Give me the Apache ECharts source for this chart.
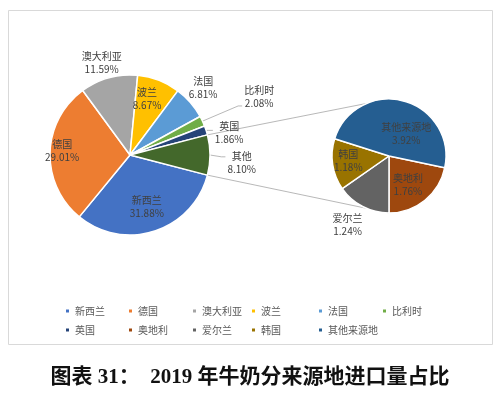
<!DOCTYPE html>
<html>
<head>
<meta charset="utf-8">
<script src="https://cdn.jsdelivr.net/npm/echarts@6/dist/echarts.min.js"></script>
<style>
  html, body { margin: 0; padding: 0; background: #fff; }
  #chart { width: 500px; height: 399px; }
</style>
</head>
<body>
<div id="chart"></div>
<script>
// 主饼图
const mainNames = ['新西兰', '德国', '澳大利亚', '波兰', '法国', '比利时', '英国', '其他']
const mainValues = [31.88, 29.01, 11.59, 8.67, 6.81, 2.08, 1.86, 8.10]
// 子饼图（“其他”拆分）
const subNames = ['奥地利', '爱尔兰', '韩国', '其他来源地']
const subValues = [1.76, 1.24, 1.18, 3.92]
// 图例按列排
const legendColumns = [
  ['新西兰', '英国'],
  ['德国', '奥地利'],
  ['澳大利亚', '爱尔兰'],
  ['波兰', '韩国'],
  ['法国', '其他来源地'],
  ['比利时']
]

const mainColors = ['#4472C4', '#ED7D31', '#A5A5A5', '#FFC000', '#5B9BD5', '#70AD47', '#264478', '#43682B']
const subColors = ['#9E480E', '#636363', '#997300', '#255E91']

// 布局
const MAIN = { cx: 130, cy: 155, r: 80 }
const SUB = { cx: 389, cy: 156, r: 57 }
const legendX = [64, 127, 191, 250, 317, 381]

// 标签位置：[角度(自12点顺时针), 半径倍数]
const mainSpots = [[162, 0.68], [274, 0.85], [343, 1.21], [17, 0.73], [47.5, 1.24], [65.8, 1.77], [77.5, 1.27], [94, 1.4]]
const mainLeader = [false, false, false, false, false, true, true, true]
const subSpots = [[147, 0.61], [211, 1.41], [263, 0.72], [38, 0.49]]
const subLeader = [false, false, false, false]

const labelFont = "'Noto Sans CJK SC', sans-serif"

// 主饼“其他”扇区居中在3点方向
const total = mainValues.reduce((a, b) => a + b, 0)
const beforeOther = mainValues.slice(0, -1).reduce((a, b) => a + b, 0)
const otherDeg = mainValues[mainValues.length - 1] / total * 360
const mainStart = 90 - (beforeOther / total * 360 + otherDeg / 2) // 顺时针角度
const subStart = 101.8

function midAngles(values, start) {
  const sum = values.reduce((a, b) => a + b, 0)
  let acc = start
  return values.map(v => {
    const d = v / sum * 360
    const m = acc + d / 2
    acc += d
    return m
  })
}

function makeLayout(geo, spots, mids, leaders) {
  return function (p) {
    const [ang, rf] = spots[p.dataIndex]
    const a = ang * Math.PI / 180
    const x = geo.cx + rf * geo.r * Math.sin(a)
    const y = geo.cy - rf * geo.r * Math.cos(a)
    const out = { x: x, y: y, align: 'center', verticalAlign: 'middle' }
    if (leaders[p.dataIndex]) {
      const m = mids[p.dataIndex] * Math.PI / 180
      const ex = geo.cx + geo.r * Math.sin(m)
      const ey = geo.cy - geo.r * Math.cos(m)
      const left = x - p.labelRect.width / 2 - 2
      const ay = y + Math.max(-6, Math.min(9, ey - y))
      out.labelLinePoints = [[ex, ey], [left - 4, ay], [left, ay]]
    }
    return out
  }
}

function pieData(names, values, colors, leaders) {
  return names.map((n, i) => ({
    name: n,
    value: values[i],
    itemStyle: { color: colors[i] },
    labelLine: { show: leaders[i], lineStyle: { color: '#A6A6A6', width: 0.8 }, smooth: false }
  }))
}

const labelCfg = {
  show: true,
  position: 'outside',
  color: '#404040',
  fontSize: 10,
  lineHeight: 13,
  fontFamily: labelFont,
  formatter: p => p.name + '\n' + p.value.toFixed(2) + '%'
}

// 连接线：主饼“其他”扇区两边 -> 子饼上下端
const oStart = (mainStart + beforeOther / total * 360) * Math.PI / 180
const oEnd = (mainStart + 360) * Math.PI / 180
const connectors = [
  [MAIN.cx + MAIN.r * Math.sin(oStart), MAIN.cy - MAIN.r * Math.cos(oStart), SUB.cx, SUB.cy - SUB.r],
  [MAIN.cx + MAIN.r * Math.sin(oEnd), MAIN.cy - MAIN.r * Math.cos(oEnd), SUB.cx, SUB.cy + SUB.r]
]

const chart = echarts.init(document.getElementById('chart'))
chart.setOption({
  animation: false,
  backgroundColor: '#fff',
  title: {
    text: '图表 31：  2019 年牛奶分来源地进口量占比',
    left: 'center',
    top: 367,
    padding: 0,
    textStyle: {
      fontSize: 21,
      fontWeight: 'bold',
      color: '#111',
      fontFamily: "'Liberation Serif', 'Noto Sans CJK SC', serif"
    }
  },
  legend: legendColumns.map((col, i) => ({
    orient: 'vertical',
    left: legendX[i],
    top: 305,
    padding: 0,
    itemWidth: 5,
    itemHeight: 5,
    itemGap: 7,
    icon: 'rect',
    selectedMode: false,
    textStyle: { fontSize: 10, color: '#595959', lineHeight: 12, fontFamily: labelFont },
    data: col
  })),
  graphic: [
    {
      type: 'rect',
      shape: { x: 8.5, y: 10.5, width: 484, height: 334 },
      style: { fill: 'none', stroke: '#D9D9D9', lineWidth: 1 },
      z: -1
    }
  ].concat(connectors.map(c => ({
    type: 'line',
    shape: { x1: c[0], y1: c[1], x2: c[2], y2: c[3] },
    style: { stroke: '#A6A6A6', lineWidth: 0.8 },
    z: 0
  }))),
  series: [
    {
      name: '主',
      type: 'pie',
      center: [MAIN.cx, MAIN.cy],
      radius: MAIN.r,
      startAngle: 90 - mainStart,
      clockwise: true,
      avoidLabelOverlap: false,
      itemStyle: { borderColor: '#fff', borderWidth: 1.5 },
      label: labelCfg,
      labelLayout: makeLayout(MAIN, mainSpots, midAngles(mainValues, mainStart), mainLeader),
      data: pieData(mainNames, mainValues, mainColors, mainLeader)
    },
    {
      name: '子',
      type: 'pie',
      center: [SUB.cx, SUB.cy],
      radius: SUB.r,
      startAngle: 90 - subStart,
      clockwise: true,
      avoidLabelOverlap: false,
      itemStyle: { borderColor: '#fff', borderWidth: 1.5 },
      label: labelCfg,
      labelLayout: makeLayout(SUB, subSpots, midAngles(subValues, subStart), subLeader),
      data: pieData(subNames, subValues, subColors, subLeader)
    }
  ]
})
</script>
</body>
</html>
